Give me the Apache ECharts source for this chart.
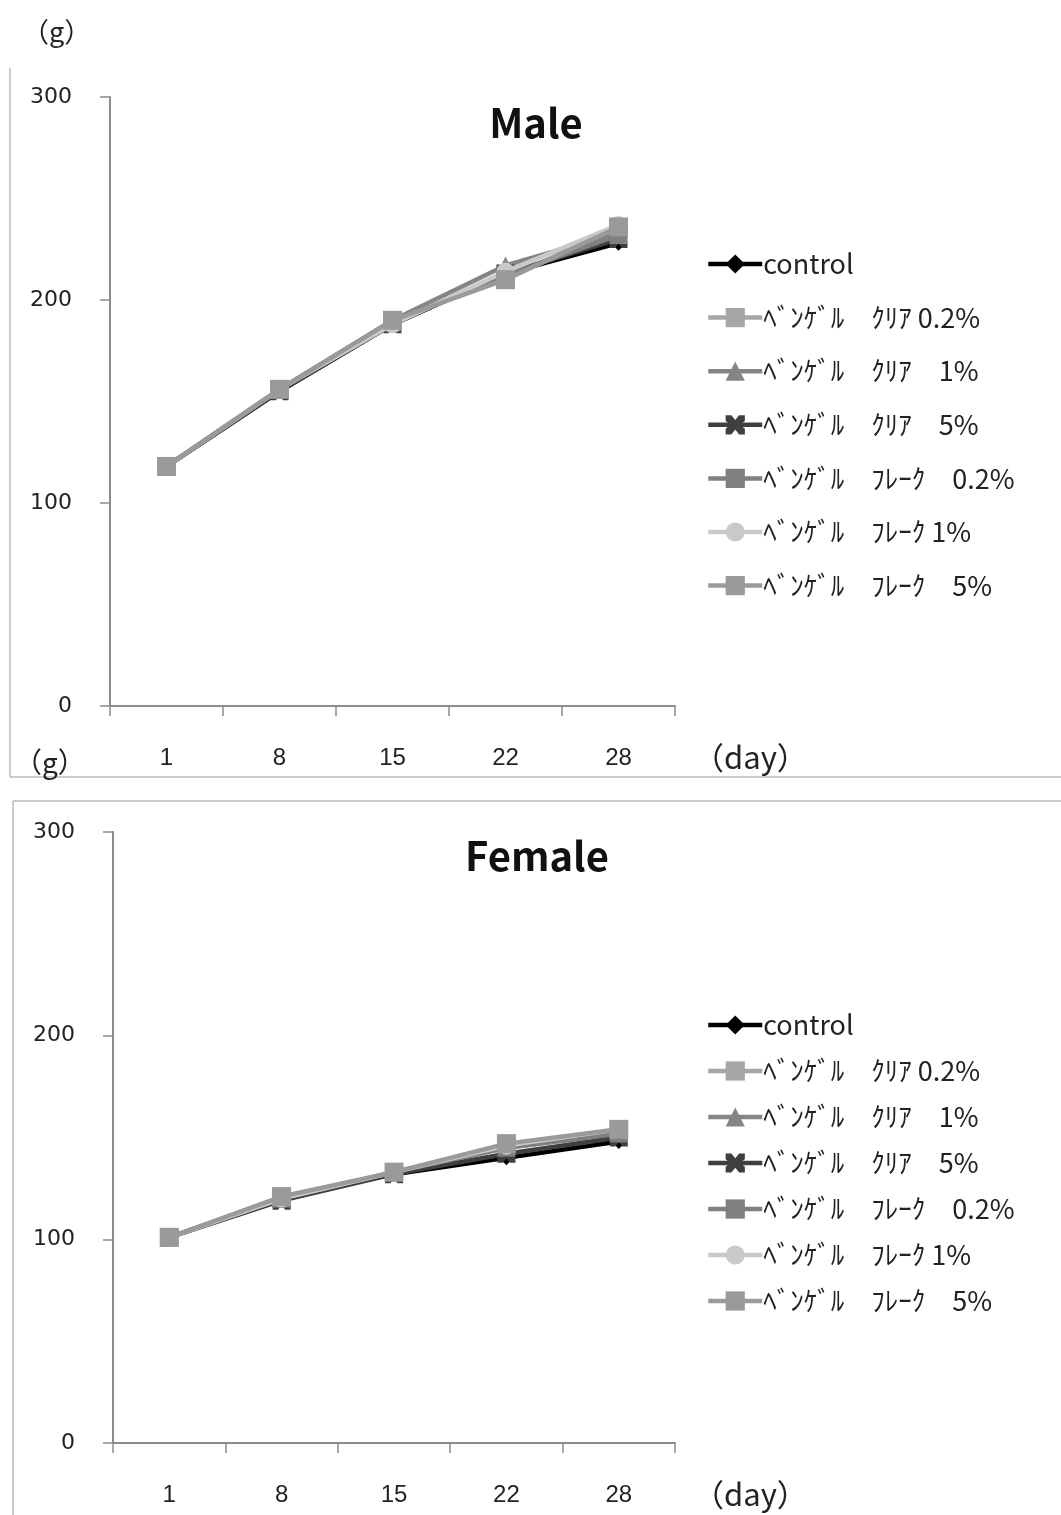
<!DOCTYPE html>
<html>
<head>
<meta charset="utf-8">
<script src="https://cdn.jsdelivr.net/npm/echarts@6/dist/echarts.min.js"></script>
<style>
html,body{margin:0;padding:0;background:#fff;}
#c{width:1061px;height:1515px;}
</style>
</head>
<body>
<div id="c"></div>
<script>
// ---- data ----
const days = ['1', '8', '15', '22', '28'];
const seriesNames = ['control', 'ﾍﾞﾝｹﾞﾙ　ｸﾘｱ 0.2%', 'ﾍﾞﾝｹﾞﾙ　ｸﾘｱ　1%', 'ﾍﾞﾝｹﾞﾙ　ｸﾘｱ　5%', 'ﾍﾞﾝｹﾞﾙ　ﾌﾚｰｸ　0.2%', 'ﾍﾞﾝｹﾞﾙ　ﾌﾚｰｸ 1%', 'ﾍﾞﾝｹﾞﾙ　ﾌﾚｰｸ　5%'];
const yTicks = [0, 100, 200, 300];

const maleControl   = [118, 155, 188, 213, 228];
const maleClear02   = [118, 156, 190, 211, 235];
const maleClear1    = [118, 156, 190, 217, 233];
const maleClear5    = [118, 155, 188, 213, 230];
const maleFlake02   = [118, 156, 189, 212, 232];
const maleFlake1    = [118, 156, 188, 214, 237];
const maleFlake5    = [118, 156, 190, 210, 236];

const femaleControl = [101, 120, 132, 140, 148];
const femaleClear02 = [101, 120, 133, 146, 153];
const femaleClear1  = [101, 120, 133, 145, 152];
const femaleClear5  = [101, 119, 132, 142, 150];
const femaleFlake02 = [101, 120, 133, 145, 152];
const femaleFlake1  = [101, 120, 133, 146, 154];
const femaleFlake5  = [101, 121, 133, 147, 154];

const maleData = [maleControl, maleClear02, maleClear1, maleClear5, maleFlake02, maleFlake1, maleFlake5];
const femaleData = [femaleControl, femaleClear02, femaleClear1, femaleClear5, femaleFlake02, femaleFlake1, femaleFlake5];

// ---- styles ----
const xMark = 'path://M0,0 L3,0 L5,2.5 L7,0 L10,0 L10,3 L7.5,5 L10,7 L10,10 L7,10 L5,7.5 L3,10 L0,10 L0,7 L2.5,5 L0,3 Z';
const styles = [
  {color: '#000000', symbol: 'diamond', size: 15},
  {color: '#a6a6a6', symbol: 'rect', size: 18},
  {color: '#858585', symbol: 'triangle', size: 18},
  {color: '#3f3f3f', symbol: xMark, size: 18},
  {color: '#7f7f7f', symbol: 'rect', size: 18},
  {color: '#c9c9c9', symbol: 'circle', size: 18},
  {color: '#9a9a9a', symbol: 'rect', size: 19}
];

const jp = '"Noto Sans CJK JP", "Noto Sans", sans-serif';
const narrow = '"Liberation Sans Narrow", "Liberation Sans", "Noto Sans", sans-serif';

function makeSeries(dataSet, gi) {
  return dataSet.map((d, i) => ({
    name: seriesNames[i],
    type: 'line',
    xAxisIndex: gi,
    yAxisIndex: gi,
    data: d,
    symbol: styles[i].symbol,
    symbolSize: styles[i].size,
    lineStyle: {color: styles[i].color, width: 4.5},
    itemStyle: {color: styles[i].color},
    z: 2 + i,
    animation: false
  }));
}

function xAxisDef(gi) {
  return {
    type: 'category',
    gridIndex: gi,
    data: days,
    boundaryGap: true,
    axisLine: {lineStyle: {color: '#8c8c8c', width: 2}},
    axisTick: {show: true, length: 10, inside: false, lineStyle: {color: '#8c8c8c', width: 1.5}},
    axisLabel: {margin: 40, fontSize: 24, color: '#222', fontFamily: narrow},
    name: '（day）',
    nameLocation: 'end',
    nameGap: 18,
    nameTextStyle: {fontSize: 31, color: '#222', fontFamily: jp, verticalAlign: 'top', align: 'left', padding: [36, 0, 0, 0]}
  };
}
function yAxisDef(gi) {
  return {
    type: 'value',
    gridIndex: gi,
    min: 0, max: 300, interval: 100,
    axisLine: {show: true, lineStyle: {color: '#8c8c8c', width: 2}},
    axisTick: {show: true, length: 10, lineStyle: {color: '#8c8c8c', width: 1.5}},
    splitLine: {show: false},
    axisLabel: {margin: 38, fontSize: 22, color: '#222', fontFamily: '"DejaVu Sans", sans-serif',
      formatter: v => yTicks.includes(v) ? String(v) : ''}
  };
}
function legendDef(top, gap) {
  return {
    orient: 'vertical',
    left: 701,
    top: top,
    itemWidth: 54,
    itemHeight: 24,
    itemGap: gap,
    lineStyle: {width: 4.5},
    textStyle: {fontSize: 27, color: '#222', fontFamily: jp, lineHeight: 30, padding: [0, 0, 0, -4]},
    data: seriesNames,
    selectedMode: false
  };
}

const frameColor = '#bdbdbd';
const chart = echarts.init(document.getElementById('c'), null, {renderer: 'canvas'});
chart.setOption({
  backgroundColor: '#ffffff',
  animation: false,
  title: [
    {text: 'Male', left: 531, top: 98, textAlign: 'center', textStyle: {fontSize: 40, fontWeight: 'bold', color: '#111', fontFamily: jp}},
    {text: 'Female', left: 532, top: 831, textAlign: 'center', textStyle: {fontSize: 40, fontWeight: 'bold', color: '#111', fontFamily: jp}}
  ],
  grid: [
    {left: 110, top: 97, right: 386, height: 609},
    {left: 113, top: 832, right: 386, height: 611}
  ],
  xAxis: [xAxisDef(0), xAxisDef(1)],
  yAxis: [yAxisDef(0), yAxisDef(1)],
  legend: [legendDef(244, 23.6), legendDef(1005, 16)],
  series: makeSeries(maleData, 0).concat(makeSeries(femaleData, 1)),
  graphic: [
    {type: 'line', shape: {x1: 10, y1: 68, x2: 10, y2: 777}, style: {stroke: frameColor, lineWidth: 1.5}, silent: true},
    {type: 'line', shape: {x1: 10, y1: 777, x2: 1061, y2: 777}, style: {stroke: frameColor, lineWidth: 1.5}, silent: true},
    {type: 'line', shape: {x1: 13, y1: 801, x2: 1061, y2: 801}, style: {stroke: frameColor, lineWidth: 1.5}, silent: true},
    {type: 'line', shape: {x1: 13, y1: 801, x2: 13, y2: 1515}, style: {stroke: frameColor, lineWidth: 1.5}, silent: true},
    {type: 'text', left: 22, top: 18, style: {text: '（g）', fontSize: 27, fill: '#222', fontFamily: jp}, silent: true},
    {type: 'text', left: 14, top: 748, style: {text: '（g）', fontSize: 28, fill: '#222', fontFamily: jp}, silent: true}
  ]
});
</script>
</body>
</html>
